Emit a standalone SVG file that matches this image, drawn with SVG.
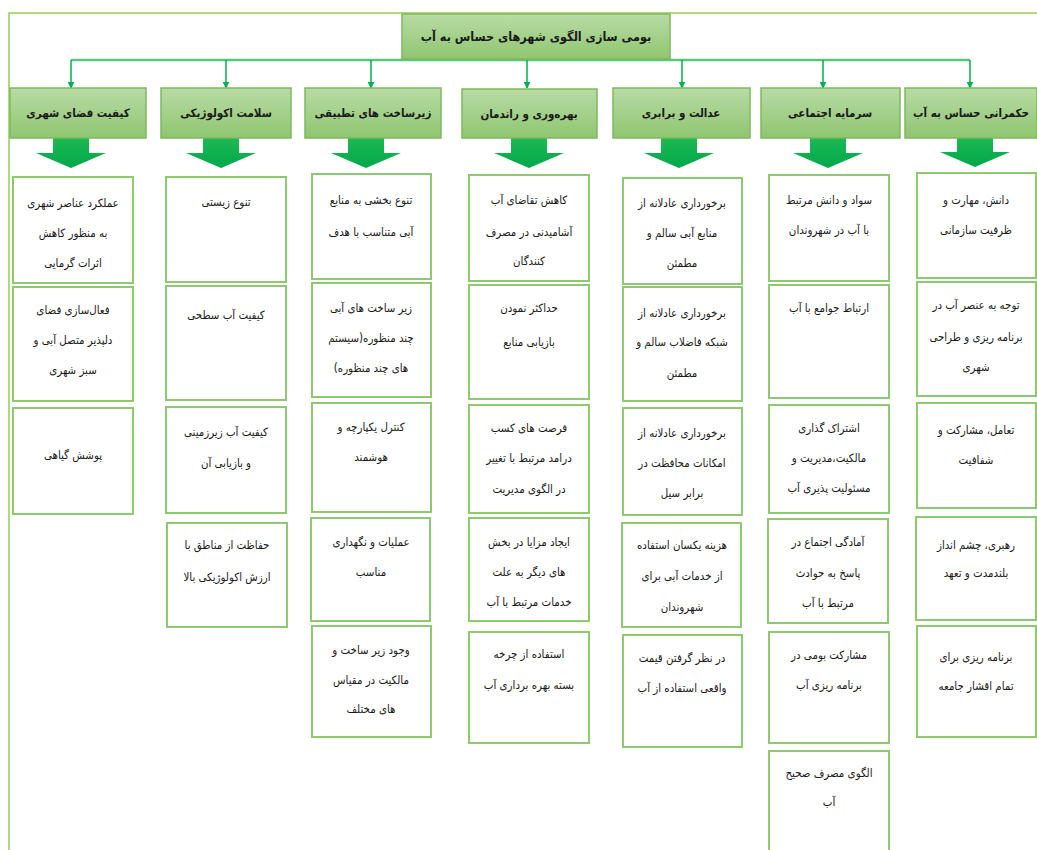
<svg xmlns="http://www.w3.org/2000/svg" width="1037" height="850" viewBox="0 0 1037 850">
<defs>
<linearGradient id="hg" x1="0" y1="0" x2="0" y2="1">
<stop offset="0" stop-color="#b9dba6"/>
<stop offset="1" stop-color="#8fc670"/>
</linearGradient>
<linearGradient id="ag" x1="0" y1="0" x2="0" y2="1">
<stop offset="0" stop-color="#1db954"/>
<stop offset="1" stop-color="#00a84a"/>
</linearGradient>
<marker id="ah" viewBox="0 0 10 10" refX="9" refY="5" markerWidth="7" markerHeight="7" orient="auto" markerUnits="userSpaceOnUse">
<path d="M0,0 L10,5 L0,10 z" fill="#00b050"/>
</marker>
<path id="blk" d="M-18,0 L18,0 L18,15 L35,15 L0,30 L-35,15 L-18,15 z"/>
</defs>
<style>
.frame{fill:none;stroke:#92d050;stroke-width:1.5}
.hdr{fill:url(#hg);stroke:#7db95c;stroke-width:1.5}
.box{fill:#ffffff;stroke:#8ec971;stroke-width:2}
.bus{fill:none;stroke:#5cc47e;stroke-width:2.5}
.drop{fill:none;stroke:#00b050;stroke-width:1.5}
.blk{fill:url(#ag)}
text{font-family:"DejaVu Sans Condensed","DejaVu Sans",sans-serif;fill:#1a1a1a;text-anchor:middle;direction:rtl}
.t{font-size:12.5px;font-weight:bold}
.h{font-size:11.5px;font-weight:bold}
.c{font-size:11.4px}
</style>

<g id="frame">
<path class="frame" d="M9,850 L9,13 L1037,13"/>
</g>

<g id="connectors">
<path class="bus" d="M71,60 L970,60"/>
<path class="drop" d="M71,60 L71,88" marker-end="url(#ah)"/>
<path class="drop" d="M226,60 L226,88" marker-end="url(#ah)"/>
<path class="drop" d="M371,60 L371,88" marker-end="url(#ah)"/>
<path class="drop" d="M527,60 L527,88" marker-end="url(#ah)"/>
<path class="drop" d="M682,60 L682,88" marker-end="url(#ah)"/>
<path class="drop" d="M823,60 L823,88" marker-end="url(#ah)"/>
<path class="drop" d="M970,60 L970,88" marker-end="url(#ah)"/>
<use href="#blk" class="blk" x="71" y="138"/>
<use href="#blk" class="blk" x="221" y="138"/>
<use href="#blk" class="blk" x="366" y="138"/>
<use href="#blk" class="blk" x="529" y="138"/>
<use href="#blk" class="blk" x="679" y="138"/>
<use href="#blk" class="blk" x="828" y="138"/>
<use href="#blk" class="blk" x="975" y="137"/>
</g>

<g id="title">
<rect class="hdr" x="402" y="14" width="268" height="45"/>
<text class="t" x="536" y="41">بومی سازی الگوی شهرهای حساس به آب</text>
</g>

<g id="h1"><rect class="hdr" x="10" y="88" width="136" height="50"/><text class="h" x="78" y="117">کیفیت فضای شهری</text></g>
<g id="h2"><rect class="hdr" x="161" y="88" width="130" height="50"/><text class="h" x="226" y="117">سلامت اکولوژیکی</text></g>
<g id="h3"><rect class="hdr" x="305" y="88" width="136" height="50"/><text class="h" x="373" y="117">زیرساخت های تطبیقی</text></g>
<g id="h4"><rect class="hdr" x="462" y="89" width="135" height="49"/><text class="h" x="529" y="118">بهره‌وری و راندمان</text></g>
<g id="h5"><rect class="hdr" x="613" y="88" width="137" height="50"/><text class="h" x="681" y="117">عدالت و برابری</text></g>
<g id="h6"><rect class="hdr" x="761" y="88" width="139" height="50"/><text class="h" x="830" y="117">سرمایه اجتماعی</text></g>
<g id="h7"><rect class="hdr" x="905" y="88" width="132" height="50"/><text class="h" x="971" y="117">حکمرانی حساس به آب</text></g>

<!-- column 1 -->
<g id="c1b1"><rect class="box" x="13" y="177" width="120" height="106"/>
<text class="c" x="73" y="207">عملکرد عناصر شهری</text><text class="c" x="73" y="237">به منظور کاهش</text><text class="c" x="73" y="267">اثرات گرمایی</text></g>
<g id="c1b2"><rect class="box" x="13" y="287" width="120" height="114"/>
<text class="c" x="73" y="314">فعال‌سازی فضای</text><text class="c" x="73" y="344">دلپذیر متصل آبی و</text><text class="c" x="73" y="374">سبز شهری</text></g>
<g id="c1b3"><rect class="box" x="13" y="408" width="120" height="106"/>
<text class="c" x="73" y="459">پوشش گیاهی</text></g>

<!-- column 2 -->
<g id="c2b1"><rect class="box" x="166" y="177" width="120" height="105"/>
<text class="c" x="226" y="206">تنوع زیستی</text></g>
<g id="c2b2"><rect class="box" x="166" y="286" width="120" height="114"/>
<text class="c" x="226" y="319">کیفیت آب سطحی</text></g>
<g id="c2b3"><rect class="box" x="166" y="407" width="120" height="106"/>
<text class="c" x="226" y="436">کیفیت آب زیرزمینی</text><text class="c" x="226" y="467">و بازیابی آن</text></g>
<g id="c2b4"><rect class="box" x="167" y="523" width="120" height="104"/>
<text class="c" x="227" y="549">حفاظت از مناطق با</text><text class="c" x="227" y="581">ارزش اکولوژیکی بالا</text></g>

<!-- column 3 -->
<g id="c3b1"><rect class="box" x="312" y="174" width="119" height="105"/>
<text class="c" x="371" y="204">تنوع بخشی به منابع</text><text class="c" x="371" y="236">آبی متناسب با هدف</text></g>
<g id="c3b2"><rect class="box" x="312" y="283" width="119" height="114"/>
<text class="c" x="371" y="312">زیر ساخت های آبی</text><text class="c" x="371" y="342">چند منظوره(سیستم</text><text class="c" x="371" y="372">های چند منظوره)</text></g>
<g id="c3b3"><rect class="box" x="312" y="403" width="119" height="109"/>
<text class="c" x="371" y="431">کنترل یکپارچه و</text><text class="c" x="371" y="461">هوشمند</text></g>
<g id="c3b4"><rect class="box" x="311" y="518" width="119" height="103"/>
<text class="c" x="371" y="546">عملیات و نگهداری</text><text class="c" x="371" y="576">مناسب</text></g>
<g id="c3b5"><rect class="box" x="312" y="626" width="119" height="111"/>
<text class="c" x="371" y="654">وجود زیر ساخت و</text><text class="c" x="371" y="684">مالکیت در مقیاس</text><text class="c" x="371" y="713">های مختلف</text></g>

<!-- column 4 -->
<g id="c4b1"><rect class="box" x="469" y="175" width="120" height="106"/>
<text class="c" x="529" y="204">کاهش تقاضای آب</text><text class="c" x="529" y="236">آشامیدنی در مصرف</text><text class="c" x="529" y="265">کنندگان</text></g>
<g id="c4b2"><rect class="box" x="469" y="285" width="120" height="114"/>
<text class="c" x="529" y="312">حداکثر نمودن</text><text class="c" x="529" y="346">بازیابی منابع</text></g>
<g id="c4b3"><rect class="box" x="469" y="405" width="120" height="108"/>
<text class="c" x="529" y="432">فرصت های کسب</text><text class="c" x="529" y="462">درامد مرتبط با تغییر</text><text class="c" x="529" y="493">در الگوی مدیریت</text></g>
<g id="c4b4"><rect class="box" x="469" y="518" width="120" height="103"/>
<text class="c" x="529" y="546">ایجاد مزایا در بخش</text><text class="c" x="529" y="576">های دیگر به علت</text><text class="c" x="529" y="606">خدمات مرتبط با آب</text></g>
<g id="c4b5"><rect class="box" x="469" y="632" width="120" height="111"/>
<text class="c" x="529" y="658">استفاده از چرخه</text><text class="c" x="529" y="689">بسته بهره برداری آب</text></g>

<!-- column 5 -->
<g id="c5b1"><rect class="box" x="623" y="178" width="119" height="106"/>
<text class="c" x="682" y="207">برخورداری عادلانه از</text><text class="c" x="682" y="237">منابع آبی سالم و</text><text class="c" x="682" y="267">مطمئن</text></g>
<g id="c5b2"><rect class="box" x="623" y="287" width="119" height="114"/>
<text class="c" x="682" y="317">برخورداری عادلانه از</text><text class="c" x="682" y="346">شبکه فاضلاب سالم و</text><text class="c" x="682" y="377">مطمئن</text></g>
<g id="c5b3"><rect class="box" x="623" y="408" width="119" height="107"/>
<text class="c" x="682" y="437">برخورداری عادلانه از</text><text class="c" x="682" y="467">امکانات محافظت در</text><text class="c" x="682" y="497">برابر سیل</text></g>
<g id="c5b4"><rect class="box" x="622" y="523" width="119" height="104"/>
<text class="c" x="682" y="549">هزینه یکسان استفاده</text><text class="c" x="682" y="580">از خدمات آبی برای</text><text class="c" x="682" y="611">شهروندان</text></g>
<g id="c5b5"><rect class="box" x="623" y="635" width="119" height="112"/>
<text class="c" x="682" y="662">در نظر گرفتن قیمت</text><text class="c" x="682" y="692">واقعی استفاده از آب</text></g>

<!-- column 6 -->
<g id="c6b1"><rect class="box" x="769" y="175" width="120" height="106"/>
<text class="c" x="829" y="204">سواد و دانش مرتبط</text><text class="c" x="829" y="234">با آب در شهروندان</text></g>
<g id="c6b2"><rect class="box" x="769" y="285" width="120" height="113"/>
<text class="c" x="829" y="312">ارتباط جوامع  با آب</text></g>
<g id="c6b3"><rect class="box" x="769" y="405" width="120" height="108"/>
<text class="c" x="829" y="432">اشتراک گذاری</text><text class="c" x="829" y="462">مالکیت،مدیریت و</text><text class="c" x="829" y="492">مسئولیت پذیری آب</text></g>
<g id="c6b4"><rect class="box" x="768" y="519" width="120" height="104"/>
<text class="c" x="828" y="546">آمادگی اجتماع در</text><text class="c" x="828" y="577">پاسخ به حوادث</text><text class="c" x="828" y="607">مرتبط با آب</text></g>
<g id="c6b5"><rect class="box" x="769" y="632" width="120" height="111"/>
<text class="c" x="829" y="659">مشارکت بومی در</text><text class="c" x="829" y="689">برنامه ریزی آب</text></g>
<g id="c6b6"><rect class="box" x="769" y="751" width="120" height="110"/>
<text class="c" x="829" y="777">الگوی مصرف صحیح</text><text class="c" x="829" y="806">آب</text></g>

<!-- column 7 -->
<g id="c7b1"><rect class="box" x="917" y="173" width="119" height="105"/>
<text class="c" x="976" y="204">دانش، مهارت و</text><text class="c" x="976" y="234">ظرفیت سازمانی</text></g>
<g id="c7b2"><rect class="box" x="917" y="282" width="119" height="114"/>
<text class="c" x="976" y="309">توجه به عنصر آب در</text><text class="c" x="976" y="341">برنامه ریزی و طراحی</text><text class="c" x="976" y="371">شهری</text></g>
<g id="c7b3"><rect class="box" x="917" y="403" width="119" height="105"/>
<text class="c" x="976" y="434">تعامل، مشارکت و</text><text class="c" x="976" y="464">شفافیت</text></g>
<g id="c7b4"><rect class="box" x="916" y="517" width="120" height="103"/>
<text class="c" x="976" y="549">رهبری، چشم انداز</text><text class="c" x="976" y="577">بلندمدت و تعهد</text></g>
<g id="c7b5"><rect class="box" x="917" y="626" width="119" height="111"/>
<text class="c" x="976" y="661">برنامه ریزی برای</text><text class="c" x="976" y="690">تمام اقشار جامعه</text></g>
</svg>
